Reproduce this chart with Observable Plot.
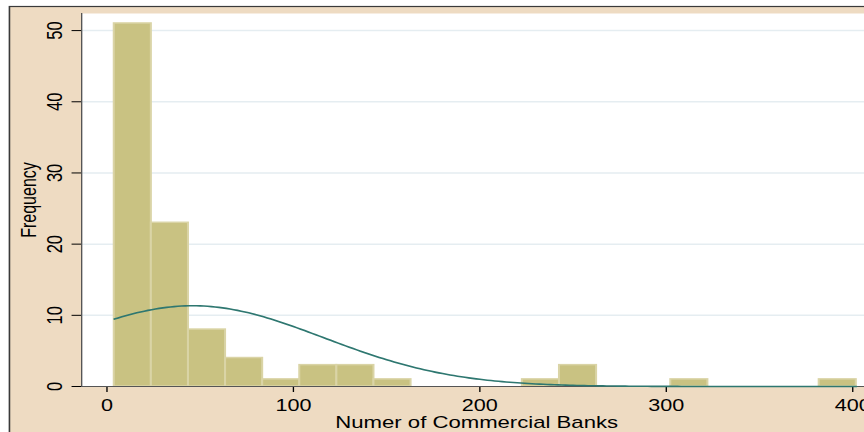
<!DOCTYPE html>
<html><head><meta charset="utf-8">
<script src="https://cdn.jsdelivr.net/npm/d3@7"></script>
<script src="https://cdn.jsdelivr.net/npm/@observablehq/plot@0.6"></script>
<style>html,body{margin:0;padding:0;background:#fff;overflow:hidden}</style>
</head><body><div id="chart"></div>
<script>
// Histogram bins (lower edge), counts
const binStarts = [4, 23.9, 43.8, 63.7, 83.6, 103.5, 123.4, 143.3, 222.9, 242.8, 302.5, 382.1];
const binCounts = [51, 23, 8, 4, 1, 3, 3, 1, 1, 3, 1, 1];
const binWidth = 19.9;
// Fitted normal overlay parameters
const normalMean = 46;
const normalSD = 70;
const nObs = 100;
const xMin = 4, xMax = 402;
// Ticks and labels
const xTicks = [0, 100, 200, 300, 400];
const yTicks = [0, 10, 20, 30, 40, 50];
const xLabel = "Numer of Commercial Banks";
const yLabel = "Frequency";

const bins = binStarts.map((s, i) => ({x1: s, x2: s + binWidth, count: binCounts[i]}));
const curve = d3.range(xMin, xMax + 0.1, 2).map(x => ({
  x,
  y: nObs * binWidth * Math.exp(-((x - normalMean) ** 2) / (2 * normalSD ** 2)) / (normalSD * Math.sqrt(2 * Math.PI))
}));

const W = 640, H = 432;
const xDom = [-13.57, 406.4];

const svg = Plot.plot({
  width: W, height: H,
  marginLeft: 60, marginRight: 0, marginTop: 13, marginBottom: 46,
  style: {fontFamily: "'Liberation Sans', Arial, sans-serif", fontSize: "16px", background: "transparent", color: "#000", overflow: "visible"},
  x: {domain: xDom, ticks: xTicks, tickSize: 6, tickPadding: 7.6, label: null, tickFormat: d => String(d)},
  y: {domain: [0, 52.4], ticks: yTicks, tickSize: 7, tickFormat: () => "", label: null},
  marks: [
    Plot.frame({fill: "white", stroke: "none"}),
    Plot.gridY(yTicks.filter(d => d > 0), {stroke: "#E5EDF1", strokeOpacity: 1, strokeWidth: 1.5}),
    Plot.rectY(bins, {x1: "x1", x2: "x2", y: "count", fill: "#C9C282", stroke: "#DAD4A6", strokeWidth: 1.5, inset: 0}),
    Plot.ruleY([0], {stroke: "#555", strokeWidth: 1.2}),
    Plot.frame({anchor: "left", stroke: "#555", strokeWidth: 1}),
    Plot.line(curve, {x: "x", y: "y", stroke: "#2E7770", strokeWidth: 1.6}),
    Plot.text(yTicks, {y: d => d, text: d => String(d), frameAnchor: "left", dx: -20, rotate: -90, fontSize: 16.5, fill: "#000", textAnchor: "middle", lineAnchor: "middle"}),
    Plot.text([yLabel], {text: d => d, frameAnchor: "left", dx: -39, rotate: -90, fontSize: 16, fill: "#000", textAnchor: "middle", lineAnchor: "middle"}),
    Plot.text([xLabel], {x: () => 198.3, text: d => d, frameAnchor: "bottom", dy: 36.5, fontSize: 16.4, fill: "#000", textAnchor: "middle", lineAnchor: "middle"})
  ]
});

svg.setAttribute("width", 864);
svg.setAttribute("height", 432);
svg.setAttribute("preserveAspectRatio", "none");
svg.style.width = "864px";
svg.style.height = "432px";
svg.style.maxWidth = "none";
svg.style.display = "block";

d3.select(svg).insert("rect", ":first-child")
  .attr("x", 7).attr("y", 6.5).attr("width", 700).attr("height", 500)
  .attr("fill", "#EEDBC2").attr("stroke", "#3a3a3a").attr("stroke-width", 1.2);

document.getElementById("chart").appendChild(svg);
</script>
</body></html>
